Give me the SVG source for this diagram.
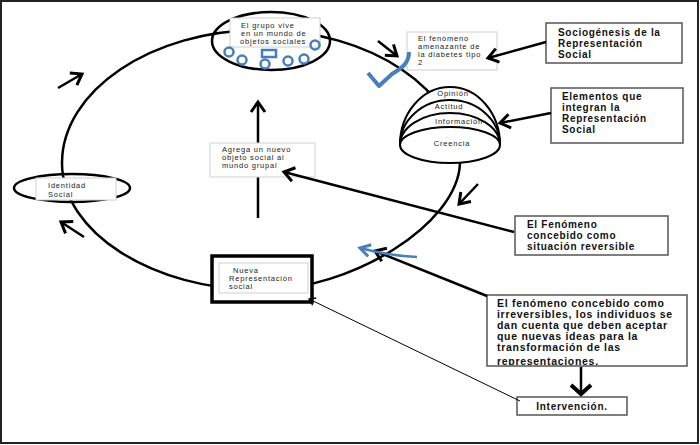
<svg xmlns="http://www.w3.org/2000/svg" width="700" height="445" viewBox="0 0 700 445">
<style>
.sm{font-family:"Liberation Sans",Arial,sans-serif;font-size:7.5px;letter-spacing:0.8px;fill:#222}
.bd{font-family:"Liberation Sans",Arial,sans-serif;font-size:10px;font-weight:bold;letter-spacing:0.7px;fill:#111}
.lbox{fill:#fff;stroke:#cfcfcf;stroke-width:1}
.bbox{fill:#fff;stroke:#555;stroke-width:1.5}
.ln{fill:none;stroke:#000;stroke-width:2.5}
.blue{fill:none;stroke:#4a7ebb;stroke-width:2.5}
</style>
<defs>
<marker id="ah" markerUnits="userSpaceOnUse" viewBox="-14 -10 16 20" refX="0" refY="0" markerWidth="16" markerHeight="20" orient="auto" overflow="visible"><path d="M-10,-7 L0,0 L-10,7" fill="none" stroke="#000" stroke-width="3"/></marker>
<marker id="ahL" markerUnits="userSpaceOnUse" viewBox="-14 -12 16 24" refX="0" refY="0" markerWidth="16" markerHeight="24" orient="auto" overflow="visible"><path d="M-9,-10 L0,0 L-9,10" fill="none" stroke="#000" stroke-width="4"/></marker>
<marker id="ahS" markerUnits="userSpaceOnUse" viewBox="-8 -5 10 10" refX="0" refY="0" markerWidth="10" markerHeight="10" orient="auto" overflow="visible"><path d="M-6,-4 L0,0 L-6,4" fill="none" stroke="#000" stroke-width="1.3"/></marker>
<marker id="ahB" markerUnits="userSpaceOnUse" viewBox="-14 -10 16 20" refX="0" refY="0" markerWidth="16" markerHeight="20" orient="auto" overflow="visible"><path d="M-10,-6 L0,0 L-10,6" fill="none" stroke="#4a7ebb" stroke-width="3"/></marker>
<clipPath id="irrclip"><rect x="487" y="295" width="200" height="70"/></clipPath>
</defs>

<rect x="1" y="1" width="697" height="442" fill="#fff" stroke="#222" stroke-width="2"/>

<g id="ciclo">
<path class="ln" d="M62,163 C62,91 151,30 261,30 C371,30 460,91 460,163 C458,225 350,290 262,290 C152,290 62,232 62,163 Z"/>
<line class="ln" x1="258" y1="218" x2="258" y2="102" marker-end="url(#ah)"/>
</g>

<g id="grupo">
<ellipse cx="271" cy="41" rx="59" ry="29" fill="none" stroke="#000" stroke-width="2.5"/>
<rect class="lbox" x="230" y="18" width="90" height="29"/>
<text class="sm" x="241" y="28">El grupo vive</text>
<text class="sm" x="241" y="36">en un mundo de</text>
<text class="sm" x="240" y="44">objetos sociales</text>
<circle class="blue" cx="229" cy="52" r="4.5"/>
<circle class="blue" cx="242" cy="60" r="4.5"/>
<rect class="blue" x="262" y="50" width="14" height="7"/>
<circle class="blue" cx="265" cy="64" r="4.5"/>
<circle class="blue" cx="288" cy="61" r="4.5"/>
<circle class="blue" cx="304" cy="59" r="4.5"/>
<circle class="blue" cx="315" cy="45" r="4.5"/>
</g>

<g id="diabetes">
<rect class="lbox" x="407" y="32" width="90" height="38"/>
<text class="sm" x="418" y="41">El fenómeno</text>
<text class="sm" x="418" y="49">amenazante de</text>
<text class="sm" x="418" y="57">la diabetes tipo</text>
<text class="sm" x="418" y="65">2</text>
</g>

<g id="elementos-capas" fill="#fff" stroke="#000" stroke-width="2">
<path d="M400,145 A50,58 0 0 1 500,145"/>
<path d="M400,145 A50,45 0 0 1 500,145"/>
<path d="M400,145 A50,32 0 0 1 500,145"/>
<ellipse cx="450" cy="145" rx="50" ry="18"/>
<text class="sm" x="453" y="96" text-anchor="middle" stroke="none">Opinión</text>
<text class="sm" x="449" y="109" text-anchor="middle" stroke="none">Actitud</text>
<text class="sm" x="459" y="124" text-anchor="middle" stroke="none">Información</text>
<text class="sm" x="452" y="146" text-anchor="middle" stroke="none">Creencia</text>
</g>

<g id="sociogenesis">
<rect class="bbox" x="546" y="23" width="136" height="40"/>
<text class="bd" x="558" y="36">Sociogénesis de la</text>
<text class="bd" x="558" y="47">Representación</text>
<text class="bd" x="558" y="58">Social</text>
</g>

<g id="elementos">
<rect class="bbox" x="551" y="88" width="132" height="55"/>
<text class="bd" x="562" y="100">Elementos  que</text>
<text class="bd" x="562" y="111">integran la</text>
<text class="bd" x="562" y="122">Representación</text>
<text class="bd" x="562" y="133">Social</text>
</g>

<g id="identidad">
<ellipse cx="72" cy="188" rx="58" ry="14" fill="none" stroke="#000" stroke-width="2.5"/>
<rect class="lbox" x="36" y="178" width="80" height="22"/>
<text class="sm" x="48" y="188">Identidad</text>
<text class="sm" x="48" y="197">Social</text>
</g>

<g id="agrega">
<rect class="lbox" x="210" y="143" width="105" height="34"/>
<text class="sm" x="222" y="152">Agrega un nuevo</text>
<text class="sm" x="222" y="160">objeto social al</text>
<text class="sm" x="222" y="168">mundo grupal</text>
</g>

<g id="nueva">
<rect x="212" y="256" width="100" height="46" fill="#fff" stroke="#000" stroke-width="3.5"/>
<rect class="lbox" x="219" y="263" width="89" height="30"/>
<text class="sm" x="233" y="273">Nueva</text>
<text class="sm" x="229" y="281">Representación</text>
<text class="sm" x="229" y="289">social</text>
</g>

<g id="reversible">
<rect class="bbox" x="515" y="216" width="153" height="39"/>
<text class="bd" x="527" y="228">El Fenómeno</text>
<text class="bd" x="527" y="239">concebido  como</text>
<text class="bd" x="527" y="250">situación reversible</text>
</g>

<g id="irreversible">
<rect class="bbox" x="487" y="295" width="200" height="71"/>
<g clip-path="url(#irrclip)">
<text class="bd" x="497" y="306.5" style="font-size:10.5px">El fenómeno concebido como</text>
<text class="bd" x="497" y="317.7" style="font-size:10.5px">irreversibles, los individuos se</text>
<text class="bd" x="497" y="328.9" style="font-size:10.5px">dan cuenta que deben aceptar</text>
<text class="bd" x="497" y="340.1" style="font-size:10.5px">que nuevas ideas para  la</text>
<text class="bd" x="497" y="351.3" style="font-size:10.5px">transformación de las</text>
<text class="bd" x="497" y="364.5" style="font-size:10.5px">representaciones.</text>
</g>
</g>

<g id="intervencion">
<rect class="bbox" x="517" y="397" width="110" height="18"/>
<text class="bd" x="572" y="410" text-anchor="middle">Intervención.</text>
</g>

<g id="connectors">
<line class="ln" x1="378" y1="41" x2="397" y2="56" marker-end="url(#ah)"/>
<line class="ln" x1="58" y1="88" x2="82" y2="74" marker-end="url(#ah)"/>
<line class="ln" x1="84" y1="237" x2="61" y2="222" marker-end="url(#ah)"/>
<line class="ln" x1="478" y1="184" x2="459" y2="204" marker-end="url(#ah)"/>
<line class="ln" stroke-width="3" x1="546" y1="42" x2="488" y2="58" marker-end="url(#ah)"/>
<line class="ln" stroke-width="3" x1="551" y1="113" x2="500" y2="123" marker-end="url(#ah)"/>
<line class="ln" x1="514" y1="232" x2="284" y2="172" marker-end="url(#ah)"/>
<line class="ln" x1="487" y1="296" x2="375" y2="251" marker-end="url(#ah)"/>
<line class="ln" stroke-width="4" x1="581" y1="367" x2="581" y2="394" marker-end="url(#ahL)"/>
<line fill="none" stroke="#000" stroke-width="1" x1="520" y1="401" x2="309" y2="299" marker-end="url(#ahS)"/>
<path class="blue" stroke-width="3.5" d="M417,257 Q390,256 360,248" marker-end="url(#ahB)"/>
<path fill="none" stroke="#4a7ebb" stroke-width="4" stroke-linejoin="round" d="M368,73 L379,86 L392,74 Q402,68 405,64 Q409,59 409,52"/>
</g>
</svg>
